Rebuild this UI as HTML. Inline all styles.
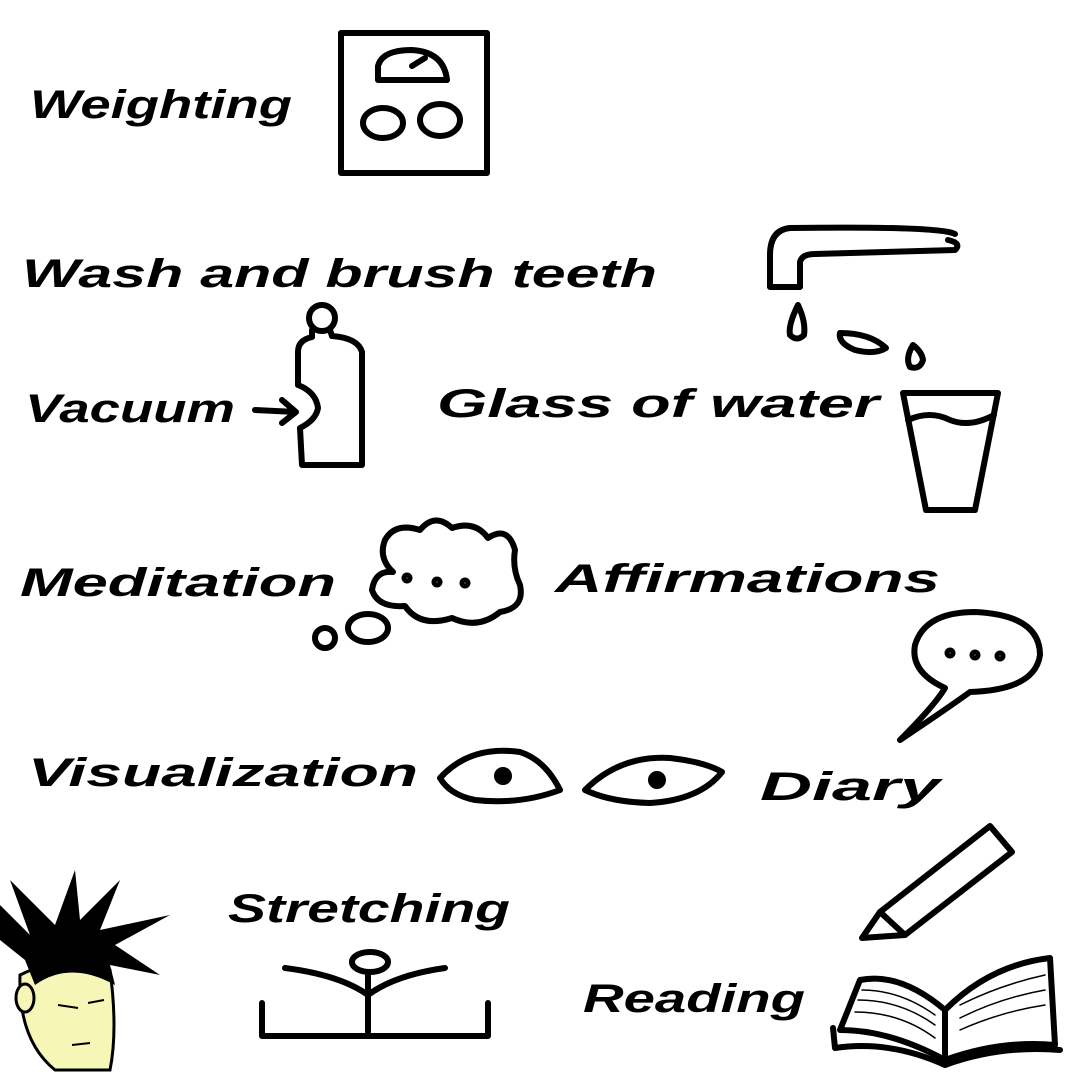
<!DOCTYPE html>
<html><head><style>
html,body{margin:0;padding:0;background:#fff;}
svg{display:block;}
text{font-family:"Liberation Sans",sans-serif;font-weight:bold;font-style:italic;fill:#000;}
</style></head><body>
<svg width="1080" height="1080" viewBox="0 0 1080 1080" xmlns="http://www.w3.org/2000/svg">
<g fill="none" stroke="#000" stroke-width="6" stroke-linecap="round" stroke-linejoin="round">
<!-- scale -->
<rect x="341" y="33" width="146" height="140"/>
<path d="M378,80 L378,66 Q382,50 412,50 Q444,52 447,80 Z"/>
<path d="M412,66 L425,58"/>
<ellipse cx="383" cy="123" rx="20" ry="15"/>
<ellipse cx="440" cy="120" rx="20" ry="16"/>
<!-- faucet -->
<path d="M955,234 Q940,226 790,228 Q770,230 770,255 L770,287 L800,287 L800,262 Q802,254 815,254 L955,250 Q962,243 948,240"/>
<path d="M798,305 Q788,325 790,335 Q797,342 804,335 Q806,322 798,305 Z"/>
<path d="M840,333 Q870,333 886,348 Q875,355 855,350 Q838,343 840,333 Z"/>
<path d="M913,345 Q905,358 910,367 Q920,370 923,360 Q922,352 913,345 Z"/>
<!-- bottle -->
<circle cx="322" cy="318" r="13"/>
<path d="M312,330 L312,337 Q298,340 298,352 L298,385 Q316,392 318,408 Q316,420 300,428 L302,465 L362,465 L362,352 Q358,338 332,336 L330,330"/>
<path d="M255,410 L296,412 M282,400 L296,412 L282,423"/>
<!-- glass -->
<path d="M903,393 L998,393 L975,510 L926,510 Z"/>
<path d="M908,420 Q930,410 950,420 Q970,428 994,415"/>
<!-- cloud -->
<path d="M393,572 Q375,570 372,590 Q378,608 405,606 Q420,628 452,618 Q478,630 500,612 Q525,608 520,585 Q512,568 515,550 Q508,525 488,538 Q475,520 452,528 Q435,512 420,530 Q395,522 385,540 Q378,558 393,572 Z"/>
<circle cx="407" cy="578" r="2.5"/><circle cx="437" cy="582" r="2.5"/><circle cx="465" cy="583" r="2.5"/>
<ellipse cx="368" cy="628" rx="20" ry="14"/>
<circle cx="325" cy="638" r="10"/>
<!-- speech bubble -->
<path d="M945,688 Q910,672 915,645 Q925,612 975,612 Q1040,615 1040,655 Q1035,690 970,692 Q945,710 900,740 Q935,705 945,688 Z"/>
<circle cx="950" cy="653" r="2.5"/><circle cx="975" cy="655" r="2.5"/><circle cx="1000" cy="656" r="2.5"/>
<!-- eyes -->
<path d="M440,778 Q470,745 520,752 Q545,760 560,790 Q520,805 475,800 Q450,795 440,778 Z"/>
<circle cx="503" cy="776" r="6" fill="#000"/>
<path d="M585,790 Q620,755 670,758 Q705,762 722,772 Q700,800 650,803 Q610,802 585,790 Z"/>
<circle cx="657" cy="780" r="6" fill="#000"/>
<!-- pencil -->
<path d="M880,912 L990,826 L1012,852 L905,935 Z"/>
<path d="M880,912 L862,938 L905,935"/>
<!-- book -->
<path d="M840,1030 L860,980 Q900,972 945,1010 Q990,965 1050,958 L1055,1045 Q1000,1040 945,1060 Q890,1030 840,1030 Z"/>
<path d="M833,1028 L835,1048 Q890,1040 945,1065 Q1000,1045 1060,1050"/>
<path d="M945,1010 L945,1060"/>
<g stroke-width="1.5"><path d="M862,990 Q900,990 935,1015 M858,1000 Q900,1000 935,1025 M855,1012 Q900,1012 935,1038 M960,1005 Q1000,985 1045,975 M960,1018 Q1000,998 1045,990 M960,1030 Q1000,1012 1045,1005"/></g>
<!-- stretch figure -->
<ellipse cx="370" cy="962" rx="18" ry="10"/>
<path d="M368,972 L368,1032 M285,968 Q340,975 368,995 Q395,975 445,968"/>
<path d="M262,1003 L262,1036 L488,1036 L488,1003"/>
</g>
<!-- character -->
<path d="M20,975 Q18,1040 55,1070 L110,1070 Q118,1030 110,970 Q70,950 20,975 Z" fill="#f6f7b6" stroke="#000" stroke-width="3"/>
<ellipse cx="25" cy="998" rx="9" ry="14" fill="#f6f7b6" stroke="#000" stroke-width="3"/>
<path d="M0,905 L30,935 L10,880 L55,925 L75,870 L80,920 L120,880 L100,930 L170,915 L115,945 L160,975 L110,965 L115,985 Q70,960 35,985 L25,960 L0,940 Z" fill="#000"/>
<path d="M58,1005 L78,1008 M88,1003 L104,1000 M72,1045 L90,1043" stroke="#000" stroke-width="2" fill="none"/>
<!-- labels -->
<text x="30" y="118" font-size="40" textLength="262" lengthAdjust="spacingAndGlyphs">Weighting</text>
<text x="22" y="287" font-size="40" textLength="635" lengthAdjust="spacingAndGlyphs">Wash and brush teeth</text>
<text x="25" y="422" font-size="40" textLength="210" lengthAdjust="spacingAndGlyphs">Vacuum</text>
<text x="437" y="417" font-size="40" textLength="442" lengthAdjust="spacingAndGlyphs">Glass of water</text>
<text x="20" y="596" font-size="40" textLength="316" lengthAdjust="spacingAndGlyphs">Meditation</text>
<text x="555" y="592" font-size="40" textLength="385" lengthAdjust="spacingAndGlyphs">Affirmations</text>
<text x="28" y="786" font-size="40" textLength="390" lengthAdjust="spacingAndGlyphs">Visualization</text>
<text x="760" y="800" font-size="40" textLength="180" lengthAdjust="spacingAndGlyphs">Diary</text>
<text x="228" y="922" font-size="40" textLength="282" lengthAdjust="spacingAndGlyphs">Stretching</text>
<text x="583" y="1012" font-size="40" textLength="222" lengthAdjust="spacingAndGlyphs">Reading</text>
</svg>
</body></html>
